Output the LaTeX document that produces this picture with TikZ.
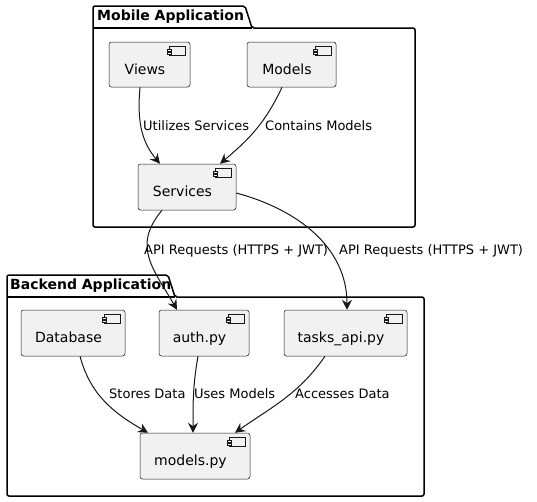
\documentclass[tikz,border=0pt]{standalone}
\usepackage{fontspec}
\setmainfont{DejaVu Sans}
\usetikzlibrary{arrows.meta}
\definecolor{compfill}{HTML}{F1F1F1}
\definecolor{umlline}{HTML}{181818}
\tikzset{
  comp/.style={draw=umlline, line width=0.5pt, fill=compfill, rounded corners=2.5pt,
    inner xsep=0pt, inner ysep=0pt, text height=32pt, text depth=13pt,
    font=\fontsize{14}{16}\selectfont, execute at end node=\hspace{9pt}},
  rel/.style={draw=umlline, line width=1pt, -{Stealth[length=10pt,width=10pt,inset=3.5pt]}},
  lbl/.style={anchor=west, inner sep=0pt, font=\fontsize{13}{15}\selectfont},
  pkg/.style={draw=black, line width=1.5pt, rounded corners=2pt},
  pkgtitle/.style={anchor=west, inner sep=0pt, font=\bfseries\fontsize{14}{16}\selectfont}
}
%% small component symbol in the top right corner of a box
\newcommand{\compicon}[1]{%
  \draw[umlline, line width=0.5pt, fill=compfill] ([shift={(-21,4.5)}]#1.north east) rectangle ++(16,8.5);
  \draw[umlline, line width=0.5pt, fill=compfill] ([shift={(-23,7)}]#1.north east) rectangle ++(4,2);
  \draw[umlline, line width=0.5pt, fill=compfill] ([shift={(-23,10.5)}]#1.north east) rectangle ++(4,2);
}
\begin{document}
\begin{tikzpicture}[x=1pt,y=-1pt]
  \useasboundingbox (0,0) rectangle (537,501);
  %% mobile application package
  \draw[pkg] (93,227) -- (93,6) -- (245,6) -- (252,28) -- (415,28) -- (415,227) -- cycle;
  \draw[pkg] (93,28) -- (252,28);
  \node[pkgtitle] (mobiletitle) at (97,17) {Mobile Application};
  %% backend application package
  \draw[pkg] (7,496) -- (7,275) -- (168,275) -- (175,297) -- (424,297) -- (424,496) -- cycle;
  \draw[pkg] (7,297) -- (175,297);
  \node[pkgtitle] (backendtitle) at (10,286) {Backend Application};
  %% components
  \node[comp, minimum width=81pt, minimum height=45pt] (views) at (149.5,64.5) {Views};
  \node[comp, minimum width=89pt, minimum height=45pt] (models) at (291.5,64.5) {Models};
  \node[comp, minimum width=98pt, minimum height=46pt] (services) at (187,187) {Services};
  \node[comp, minimum width=104pt, minimum height=46pt] (database) at (73,333) {Database};
  \node[comp, minimum width=90pt, minimum height=46pt] (auth) at (204,333) {auth.py};
  \node[comp, minimum width=123pt, minimum height=46pt] (tasks) at (345.5,333) {tasks\_api.py};
  \node[comp, minimum width=110pt, minimum height=46pt] (modelspy) at (195,456) {models.py};
  \compicon{views}
  \compicon{models}
  \compicon{services}
  \compicon{database}
  \compicon{auth}
  \compicon{tasks}
  \compicon{modelspy}
  %% relations
  \draw[rel] ([xshift=-9.5pt]views.south) to[out=-95,in=130] ([xshift=-27pt]services.north);
  \draw[rel] ([xshift=-9.5pt]models.south) to[out=-115,in=40] ([xshift=33pt]services.north);
  \draw[rel] ([xshift=-25pt]services.south) to[out=-130,in=120,looseness=1.2] ([xshift=-27pt]auth.north);
  \draw[rel] ([yshift=-6pt]services.east) to[out=-15,in=90] ([xshift=1.5pt]tasks.north);
  \draw[rel] ([xshift=7pt]database.south) to[out=-75,in=150] ([xshift=-47pt]modelspy.north);
  \draw[rel] ([xshift=-6pt]auth.south) to[out=-100,in=90] ([xshift=-2pt]modelspy.north);
  \draw[rel] ([xshift=-20.5pt]tasks.south) to[out=-125,in=35] ([xshift=40pt]modelspy.north);
  %% relation labels
  \node[lbl] (utilizes) at (143,126) {Utilizes Services};
  \node[lbl] (contains) at (265,126) {Contains Models};
  \node[lbl] (apiauth) at (144,251) {API Requests (HTTPS + JWT)};
  \node[lbl] (apitasks) at (339,251) {API Requests (HTTPS + JWT)};
  \node[lbl] (stores) at (109,394) {Stores Data};
  \node[lbl] (uses) at (194,394) {Uses Models};
  \node[lbl] (accesses) at (295,394) {Accesses Data};
\end{tikzpicture}
\end{document}
